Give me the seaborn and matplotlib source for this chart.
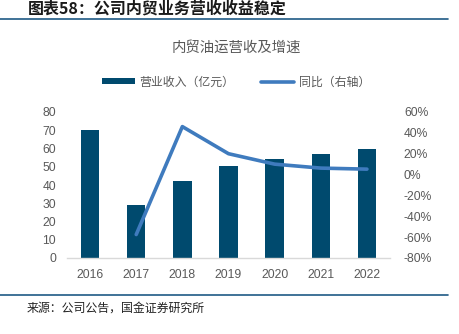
import numpy as np
import pandas as pd
import matplotlib
matplotlib.use("Agg")
import matplotlib.pyplot as plt
from matplotlib.lines import Line2D
from matplotlib.patches import Patch
from matplotlib.ticker import FuncFormatter, FixedLocator
import seaborn as sns

years = ["2016", "2017", "2018", "2019", "2020", "2021", "2022"]
revenue = [70.0, 29.0, 42.3, 50.2, 54.3, 57.0, 59.6]
growth = [np.nan, -57.5, 46.0, 20.0, 10.0, 6.2, 5.2]

fig_title = "图表58：公司内贸业务营收收益稳定"
chart_title = "内贸油运营收及增速"
legend_bar = "营业收入（亿元）"
legend_line = "同比（右轴）"
source = "来源：公司公告，国金证券研究所"

sns.set_theme(style="white")
plt.rcParams["font.family"] = ["Liberation Sans", "Noto Sans CJK SC", "DejaVu Sans"]

BAR = "#004A6E"
LINE = "#3F7BBE"
GRAY = "#595959"

df = pd.DataFrame({"year": years, "revenue": revenue, "growth": growth})
df["pos"] = np.arange(len(df))

fig = plt.figure(figsize=(4.59, 3.34), dpi=100)
ax = fig.add_axes([67/459, 1-258/334, (390-67)/459, (258-112)/334])

sns.barplot(data=df, x="year", y="revenue", color=BAR, width=0.4, ax=ax,
            saturation=1, edgecolor="none")
ax.set_ylim(0, 80)
ax.set_yticks(np.arange(0, 81, 10))
ax.set_xlim(-0.5, len(years) - 0.5)
ax.set_xlabel("")
ax.set_ylabel("")
for s in ["top", "right", "left"]:
    ax.spines[s].set_visible(False)
ax.spines["bottom"].set_color("#D9D9D9")
ax.spines["bottom"].set_linewidth(1.0)
ax.tick_params(axis="y", length=0, labelsize=8.7, labelcolor=GRAY, pad=8)
ax.tick_params(axis="x", which="major", length=0, labelsize=8.7, labelcolor=GRAY, pad=8)
ax.xaxis.set_minor_locator(FixedLocator(np.arange(-0.5, len(years), 1.0)))
ax.tick_params(axis="x", which="minor", length=3, color="#D9D9D9", width=1)
ax.grid(False)

ax2 = ax.twinx()
sns.lineplot(data=df.dropna(), x="pos", y="growth", color=LINE, linewidth=2.6, ax=ax2)
ax2.set_ylim(-80, 60)
ax2.set_yticks(np.arange(-80, 61, 20))
ax2.yaxis.set_major_formatter(FuncFormatter(lambda v, p: f"{int(v)}%"))
ax2.set_xlim(-0.5, len(years) - 0.5)
ax2.set_ylabel("")
ax2.set_xlabel("")
for s in ["top", "right", "left", "bottom"]:
    ax2.spines[s].set_visible(False)
ax2.tick_params(axis="y", length=0, labelsize=8.7, labelcolor=GRAY, pad=10)
ax2.grid(False)

# header / footer
fig.text(28/459, 1-0.5/334, fig_title, fontsize=11.5, fontweight="bold", style="italic",
         color="#1a1a1a", va="top", ha="left",
         family=["Noto Sans CJK SC", "DejaVu Sans"])
fig.add_artist(Line2D([0, 448/459], [1-19/334, 1-19/334], color="#1F5A85", linewidth=1.2))
fig.text(236/459, 1-48/334, chart_title, fontsize=10.4, color=GRAY, ha="center", va="center",
         family=["Noto Sans CJK SC", "DejaVu Sans"])

handles = [Patch(facecolor=BAR, edgecolor="none"),
           Line2D([0], [0], color=LINE, linewidth=2.6)]
leg = fig.legend(handles, [legend_bar, legend_line], loc="center", bbox_to_anchor=(236/459, 1-82/334),
                 ncol=2, frameon=False, fontsize=8.6, handlelength=2.8, handleheight=0.45,
                 columnspacing=2.2, handletextpad=0.4,
                 prop={"family": ["Noto Sans CJK SC", "DejaVu Sans"], "size": 8.6})
for t in leg.get_texts():
    t.set_color(GRAY)

fig.add_artist(Line2D([0, 448/459], [1-295/334, 1-295/334], color="#1F5A85", linewidth=1.2))
fig.text(27/459, 1-308/334, source, fontsize=8.6, color="#222222", ha="left", va="center",
         family=["Noto Sans CJK SC", "DejaVu Sans"])

fig.savefig("out.png", dpi=100, facecolor="white")
